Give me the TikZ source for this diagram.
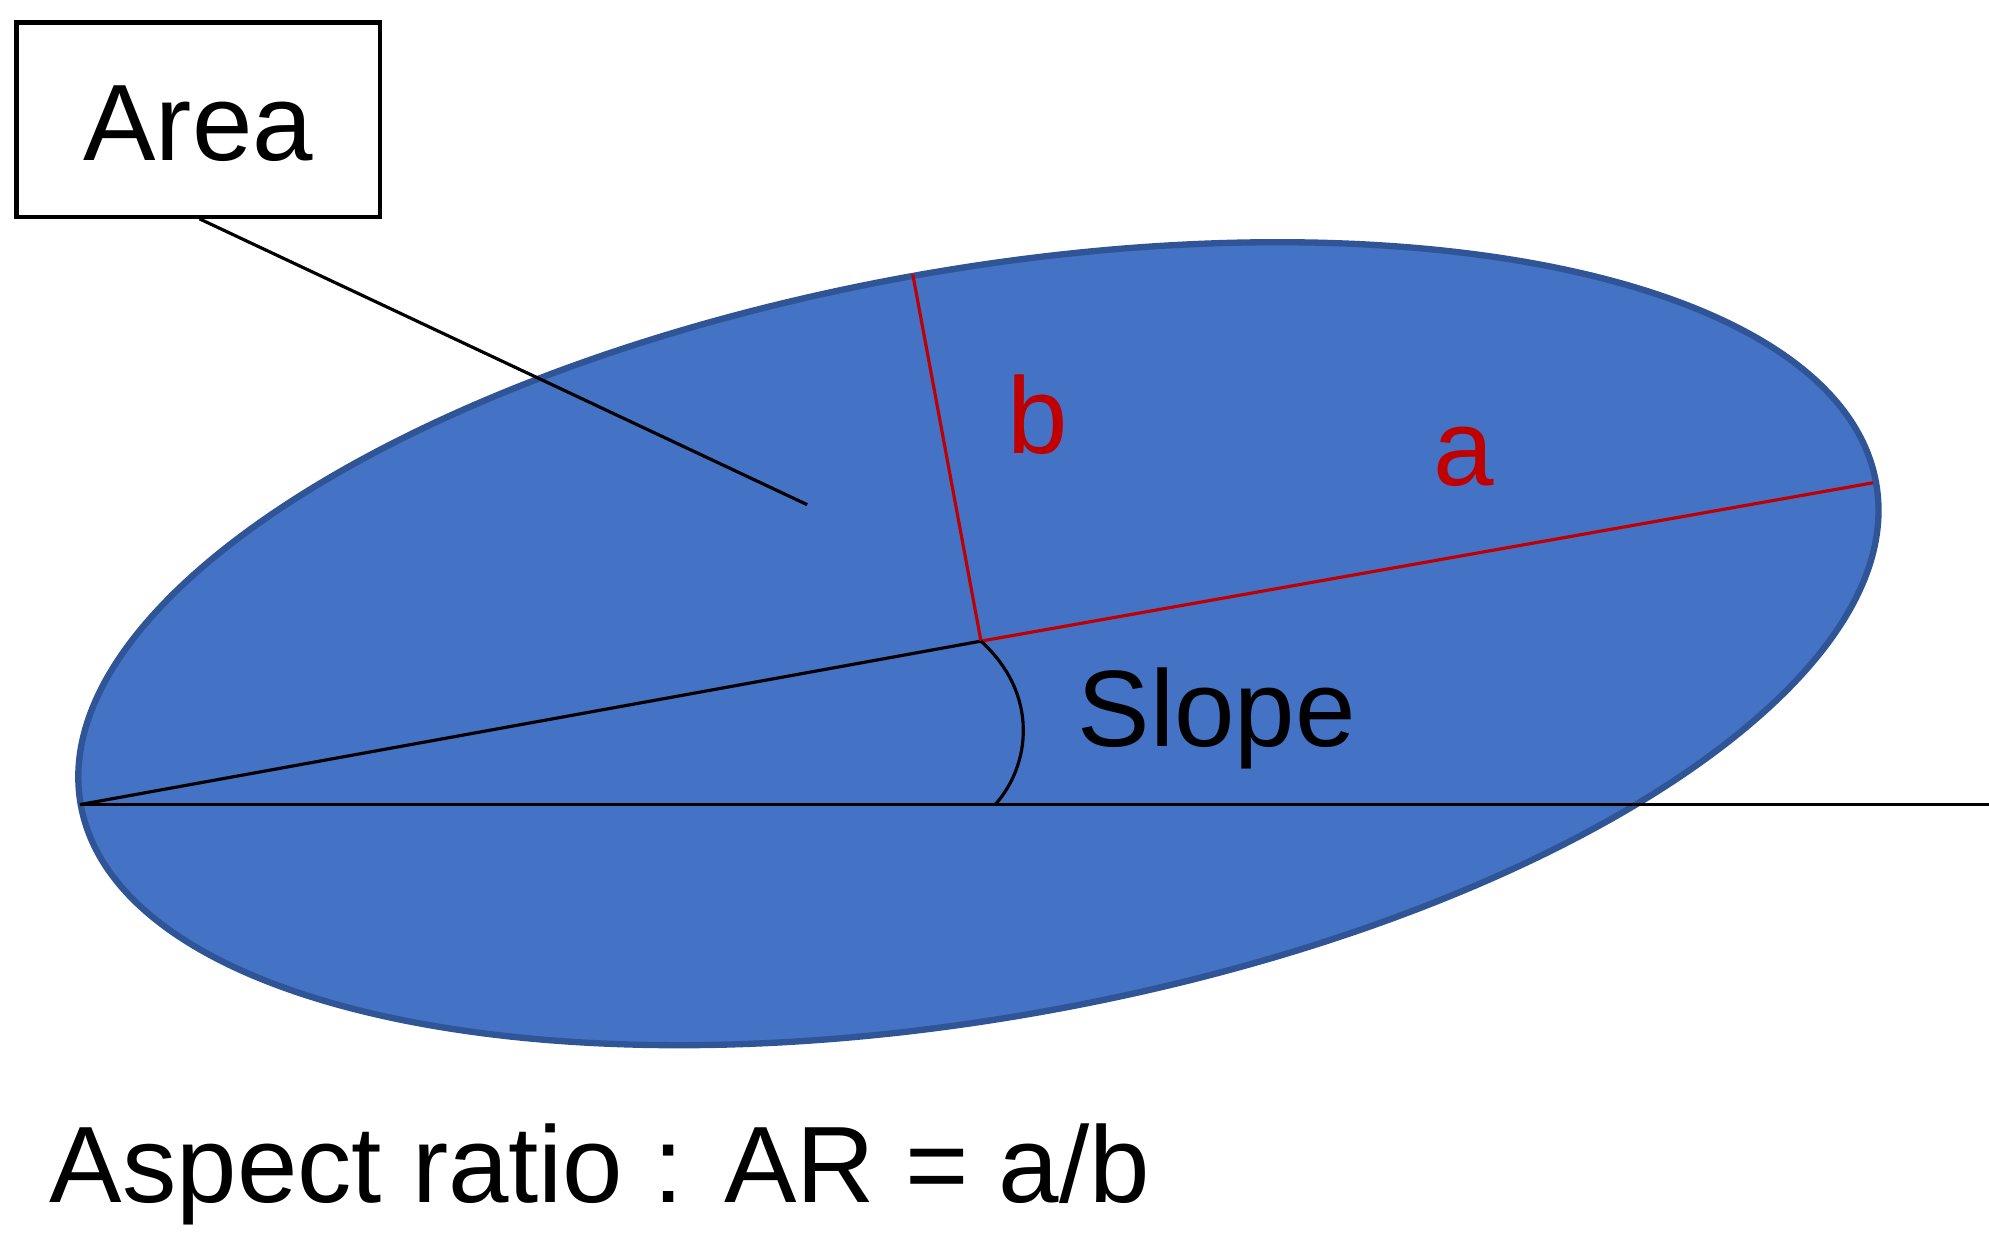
\documentclass[tikz,border=0pt]{standalone}
\usepackage{fontspec}
\setmainfont{Liberation Sans}
\usetikzlibrary{shapes.geometric}
\begin{document}
\begin{tikzpicture}[x=0.01cm,y=-0.01cm,
  lbl/.style={inner sep=0pt,font=\fontsize{24}{28}\selectfont},
  red/.style={draw={rgb,255:red,192;green,0;blue,0},line width=0.7pt}]
\definecolor{ellfill}{HTML}{4472C4}
\definecolor{elldraw}{HTML}{2F5597}
\definecolor{myred}{HTML}{C00000}
\useasboundingbox (0,0) rectangle (1545,960);
\node[draw=elldraw,fill=ellfill,line width=1.4pt,ellipse,minimum width=14.16cm,minimum height=5.8cm,inner sep=0pt,rotate=10.17] (ell) at (760,500) {};
\coordinate (L) at (62,625);
\coordinate (C) at (762,498);
\coordinate (R) at (1455,375);
\coordinate (T) at (709,213);
\coordinate (H) at (1545,625);
\coordinate (A) at (773,625);
\coordinate (P) at (627,392);
\draw[line width=0.7pt] (L) -- (H);
\draw[line width=0.7pt] (L) -- (C);
\draw[red] (C) -- (R);
\draw[red] (C) -- (T);
\draw[line width=0.7pt] (C) .. controls (808,540) and (800,595) .. (A);
\node[draw,line width=1pt,minimum width=2.82cm,minimum height=1.51cm,inner sep=0pt,fill=white] (area) at (154,93) {};
\node[lbl] at (154,96) {Area};
\draw[line width=0.7pt] (155,170) -- (P);
\node[lbl,text=myred] (b) at (806,322) {b};
\node[lbl,text=myred] (a) at (1137,355) {a};
\node[lbl] (slope) at (945,558) {Slope};
\node[lbl,anchor=west] (ar) at (38,912) {Aspect ratio : AR = a/b};
\end{tikzpicture}
\end{document}
